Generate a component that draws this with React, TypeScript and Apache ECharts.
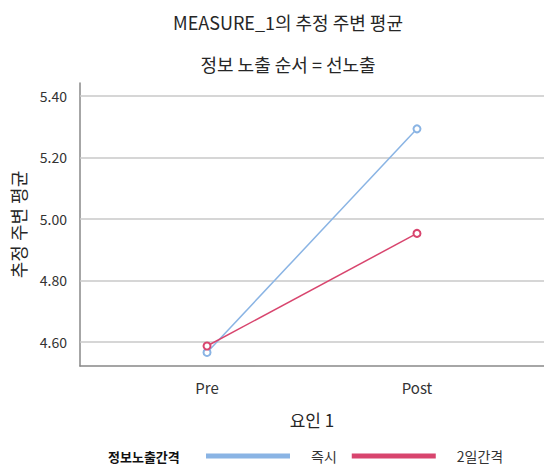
import React, { useEffect, useRef } from "react";
import * as echarts from "echarts";

const categories = ["Pre", "Post"];
const seriesNames = ["즉시", "2일간격"];
const immediateValues = [4.566, 5.293];
const twoDayValues = [4.587, 4.953];
const yTicks = [4.6, 4.8, 5.0, 5.2, 5.4];
const colors = ["#8ab4e4", "#d8456e"];

const FONT = "'Noto Sans CJK KR', 'Noto Sans', sans-serif";

export default function App() {
  const ref = useRef<HTMLDivElement>(null);
  useEffect(() => {
    if (!ref.current) return;
    const chart = echarts.init(ref.current, null, { renderer: "svg" });
    const toPts = (vals: number[]) => vals.map((v, i) => [i, v]);
    const mkSeries = (name: string, vals: number[], color: string, withGrid: boolean) => ({
      name,
      type: "line",
      data: toPts(vals),
      symbol: "emptyCircle",
      symbolSize: 7,
      showSymbol: true,
      lineStyle: { color, width: 1.5 },
      itemStyle: { color, borderColor: color, borderWidth: 1.5 },
      z: 5,
      markLine: withGrid
        ? {
            silent: true,
            symbol: ["none", "none"],
            label: { show: false },
            lineStyle: { color: "#c9c9c9", width: 1.5, type: "solid" },
            data: yTicks.map((t) => ({ yAxis: t })),
            z: 1,
          }
        : undefined,
    });
    chart.setOption({
      animation: false,
      textStyle: { fontFamily: FONT },
      title: [
        {
          text: "MEASURE_1의 추정 주변 평균",
          left: 283,
          textAlign: "center",
          top: 8,
          textStyle: { fontFamily: FONT, fontSize: 18, fontWeight: "normal", color: "#262626" },
        },
        {
          text: "정보 노출 순서 = 선노출",
          left: 283,
          textAlign: "center",
          top: 50,
          textStyle: { fontFamily: FONT, fontSize: 18, fontWeight: "normal", color: "#262626" },
        },
      ],
      grid: { left: 80, right: 0, top: 83, bottom: 102, containLabel: false },
      xAxis: {
        type: "value",
        min: -0.605,
        max: 1.605,
        name: "요인 1",
        nameLocation: "middle",
        nameGap: 45,
        nameTextStyle: { fontFamily: FONT, fontSize: 17, color: "#262626" },
        axisLine: { show: true, onZero: false, lineStyle: { color: "#888", width: 1.5 } },
        axisTick: { show: false },
        splitLine: { show: false },
        axisLabel: {
          customValues: [0, 1],
          formatter: (v: number) => categories[Math.round(v)] ?? "",
          margin: 14,
          fontFamily: FONT,
          fontSize: 15,
          color: "#333",
        },
      },
      yAxis: {
        type: "value",
        min: 4.522,
        max: 5.442,
        name: "추정 주변 평균",
        nameLocation: "middle",
        nameGap: 53,
        nameRotate: 90,
        nameTextStyle: { fontFamily: FONT, fontSize: 18, color: "#262626" },
        axisLine: { show: true, onZero: false, lineStyle: { color: "#888", width: 1.5 } },
        axisTick: { show: false },
        splitLine: { show: false },
        axisLabel: {
          customValues: yTicks,
          formatter: (v: number) => v.toFixed(2),
          margin: 13,
          fontFamily: FONT,
          fontSize: 14,
          color: "#333",
        },
      },
      legend: {
        left: 206,
        top: 449,
        padding: 0,
        icon: "rect",
        itemWidth: 82,
        itemHeight: 3,
        itemGap: 15,
        data: seriesNames,
        textStyle: { fontFamily: FONT, fontSize: 14, color: "#333", padding: [0, 0, 0, 17] },
      },
      graphic: [
        {
          type: "text",
          left: 108,
          top: 450,
          style: { text: "정보노출간격", fontFamily: FONT, fontSize: 13, fontWeight: "bold", fill: "#111" },
        },
      ],
      color: colors,
      series: [
        mkSeries(seriesNames[0], immediateValues, colors[0], true),
        mkSeries(seriesNames[1], twoDayValues, colors[1], false),
      ],
    });
    return () => chart.dispose();
  }, []);
  return <div ref={ref} style={{ width: 544, height: 468, position: "absolute", left: 0, top: 0 }} />;
}
